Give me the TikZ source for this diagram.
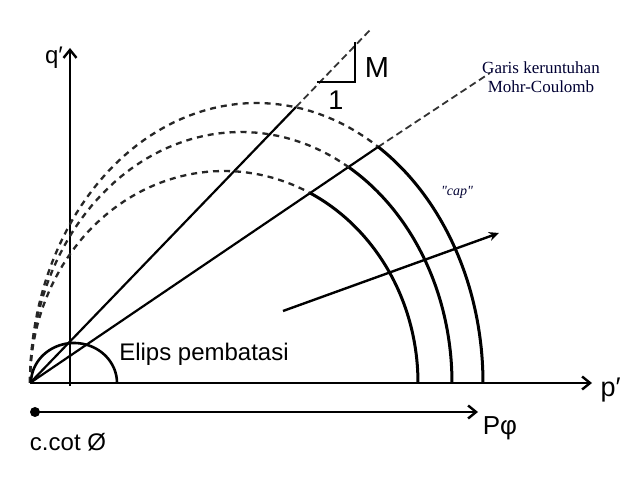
\documentclass[tikz,border=0pt]{standalone}
\usepackage{fontspec}
\setmainfont{Liberation Sans}
\newfontfamily\printfont{Liberation Serif}
\usetikzlibrary{arrows.meta}
\begin{document}
\begin{tikzpicture}[x=1pt,y=-1pt,
  axis/.style={line width=2.8pt,-{Straight Barb[length=8pt,width=13pt,line width=2.4pt]}},
  ray/.style={line width=2.2pt},
  rayext/.style={line width=1.8pt,dash pattern=on 7pt off 4pt,black!80},
  arcsolid/.style={line width=3pt},
  arcdash/.style={line width=2.3pt,dash pattern=on 6pt off 5pt,black!85},
  hand/.style={font=\fontsize{24}{26}\selectfont},
  printed/.style={font=\printfont\fontsize{17}{19}\selectfont,text=black!80!blue},
]
\useasboundingbox (0,0) rectangle (630,478);
\fill[white] (0,0) rectangle (630,478);

% key points
\coordinate (O) at (30,383);
\coordinate (pend) at (592,383);
\coordinate (qbase) at (70,386);
\coordinate (qend) at (70,48);
\coordinate (dot) at (35,412);
\coordinate (pphiend) at (478,412);
\coordinate (A1) at (296,107);
\coordinate (E1) at (372,28);
\coordinate (A2) at (378,147);
\coordinate (E2) at (490,73);
\coordinate (T1) at (317,82);
\coordinate (T2) at (355,82);
\coordinate (T3) at (355,42);
\coordinate (vs) at (283,311);
\coordinate (ve) at (499,233);

% axes
\draw[axis] (O) -- (pend);
\draw[axis] (qbase) -- (qend);
\draw[axis] (dot) -- (pphiend);
\fill (dot) circle[radius=5pt];

% critical state line M and Mohr-Coulomb line
\draw[ray] (O) -- (A1);
\draw[rayext] (A1) -- (E1);
\draw[ray] (O) -- (A2);
\draw[rayext] (A2) -- (E2);

% slope triangle
\draw[line width=2.4pt] (T1) -- (T2) -- (T3);

% yield ellipses (caps)
\draw[arcdash] plot[domain=180:57.6,samples=60] ({256.5+226.5*cos(\x)},{383-280*sin(\x)});
\draw[arcsolid] plot[domain=57.6:0,samples=50] ({256.5+226.5*cos(\x)},{383-280*sin(\x)});
\draw[arcdash] plot[domain=180:59.2,samples=60] ({241+211*cos(\x)},{383-251*sin(\x)});
\draw[arcsolid] plot[domain=59.2:0,samples=50] ({241+211*cos(\x)},{383-251*sin(\x)});
\draw[arcdash] plot[domain=180:63.7,samples=60] ({224+194*cos(\x)},{383-212*sin(\x)});
\draw[arcsolid] plot[domain=63.7:0,samples=50] ({224+194*cos(\x)},{383-212*sin(\x)});

% bounding ellipse
\draw[line width=2.6pt] plot[domain=180:0,samples=50] ({74+43*cos(\x)},{383-40*sin(\x)});

% arrow
\draw[line width=2.4pt,-{Stealth[length=10pt,width=9pt]}] (vs) -- (ve);

% labels
\node[hand] (lq) at (54,58) {q′};
\node[hand,font=\fontsize{27}{29}\selectfont,anchor=west] (lp) at (597,390) {p′};
\node[hand,font=\fontsize{26}{28}\selectfont] (lpphi) at (500,428) {Pφ};
\node[hand] (lc) at (68,442) {c.cot Ø};
\node[hand] (le) at (204,354) {Elips pembatasi};
\node[hand,font=\fontsize{29}{31}\selectfont] (lm) at (377,68) {M};
\node[hand,font=\fontsize{27}{29}\selectfont] (l1) at (336,100) {1};
\node[printed,align=center] (lmc) at (541,77) {Garis keruntuhan\\Mohr-Coulomb};
\node[printed,font=\printfont\itshape\fontsize{14}{15}\selectfont] (lcap) at (457,192) {"cap"};
\end{tikzpicture}
\end{document}
